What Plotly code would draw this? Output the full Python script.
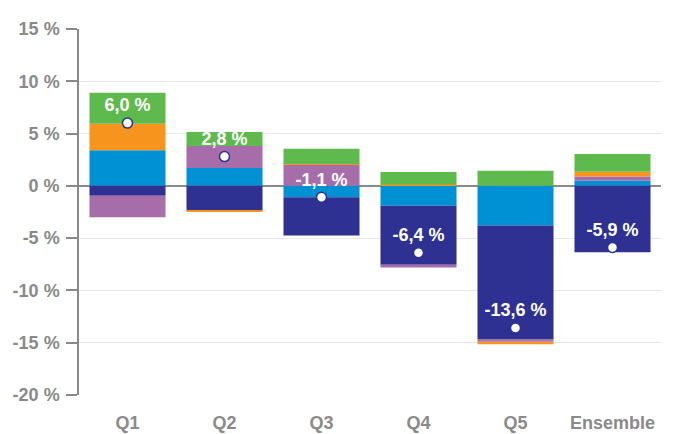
import plotly.graph_objects as go

categories = ["Q1", "Q2", "Q3", "Q4", "Q5", "Ensemble"]

# Component contributions (in %)
light_blue = [3.4, 1.7, -1.1, -1.9, -3.8, 0.5]
dark_blue = [-0.95, -2.35, -3.65, -5.65, -10.9, -6.35]
purple = [-2.05, 2.1, 2.0, -0.25, -0.2, 0.4]
orange = [2.55, -0.1, 0.1, 0.12, -0.25, 0.45]
green = [2.95, 1.35, 1.45, 1.2, 1.45, 1.7]

# Totals shown as points with labels
totals = [6.0, 2.8, -1.1, -6.4, -13.6, -5.9]

y_ticks = [15, 10, 5, 0, -5, -10, -15, -20]

series = [
    ("Composante 1", light_blue, "#0090D4"),
    ("Composante 2", dark_blue, "#2E3192"),
    ("Composante 3", purple, "#A76DAA"),
    ("Composante 4", orange, "#F7941D"),
    ("Composante 5", green, "#5FBA4E"),
]

FONT = "Liberation Sans, Arial, sans-serif"
GREY = "#8a8a8a"

fig = go.Figure()
for name, vals, col in series:
    fig.add_trace(go.Bar(x=categories, y=vals, name=name,
                         marker=dict(color=col, line=dict(width=0))))

fig.add_trace(go.Scatter(
    x=categories, y=totals, mode="markers+text", name="Total",
    marker=dict(color="white", size=10, line=dict(color="#2E3192", width=1.5)),
    text=[f"{v:.1f}".replace(".", ",") + " %" for v in totals],
    textposition="top center",
    textfont=dict(family=FONT, size=18, color="white", weight="bold"),
))

# The page places the figure 8px from the top-left corner of the window
fig.update_layout(
    width=665, height=426,
    margin=dict(l=71, r=12, t=21, b=39),
    barmode="relative", bargap=0.216,
    showlegend=False,
    plot_bgcolor="white", paper_bgcolor="white",
    font=dict(family=FONT),
)

fig.update_xaxes(
    automargin=False,
    showgrid=False, showline=False, zeroline=False,
    ticks="outside", ticklen=11, tickcolor="rgba(0,0,0,0)",
    tickfont=dict(family=FONT, size=18, color=GREY, weight="bold"),
)
fig.update_yaxes(
    automargin=False,
    range=[-20, 15], tickvals=y_ticks,
    ticktext=[f"{v} %" for v in y_ticks],
    showgrid=True, gridcolor="#e8e8e8", gridwidth=1,
    zeroline=True, zerolinecolor=GREY, zerolinewidth=1.5,
    showline=True, linecolor=GREY, linewidth=1.5,
    ticks="outside", ticklen=11, tickcolor=GREY, tickwidth=1.5,
    ticklabelstandoff=3,
    tickfont=dict(family=FONT, size=18, color=GREY, weight="bold"),
)

fig.write_html("out.html")
